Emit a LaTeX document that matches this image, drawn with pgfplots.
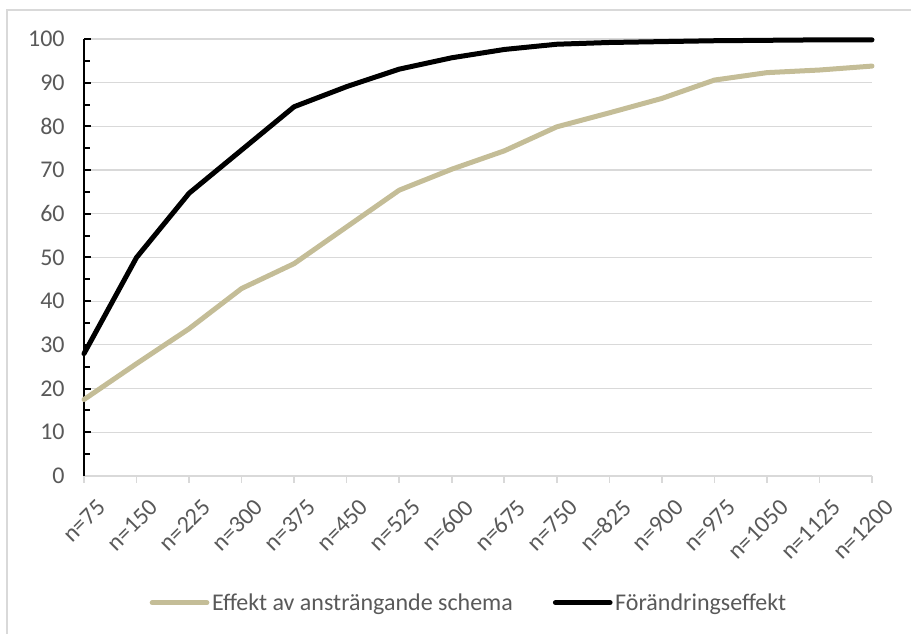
\documentclass[border=0pt]{standalone}
\usepackage{pgfplots}
\pgfplotsset{compat=1.18}
\usepackage{fontspec}
\setmainfont{Carlito}
\definecolor{tanline}{HTML}{C4BD97}
\definecolor{txt}{HTML}{595959}
\definecolor{gridgray}{HTML}{D9D9D9}

\begin{document}
\begin{tikzpicture}
\useasboundingbox (0pt,0pt) rectangle (683.25pt,475.5pt);
% chart frame (top and left edges)
\draw[gridgray, line width=1pt] (5.25pt,0pt) -- (5.25pt,468pt) -- (683.25pt,468pt);
\begin{axis}[
  at={(63pt,118.5pt)}, anchor=south west,
  scale only axis, width=591pt, height=327.75pt,
  xmin=0, xmax=15, ymin=0, ymax=100,
  clip=false,
  axis x line=bottom, axis y line=left,
  axis line style={-},
  x axis line style={gridgray, line width=1.2pt},
  y axis line style={black, line width=1.5pt},
  xtick={0,...,15},
  xticklabels={{n=75},{n=150},{n=225},{n=300},{n=375},{n=450},{n=525},{n=600},{n=675},{n=750},{n=825},{n=900},{n=975},{n=1050},{n=1125},{n=1200}},
  ytick={0,10,...,100}, minor y tick num=1,
  xtick align=outside, ytick align=inside,
  xtick style={gridgray, line width=1.2pt},
  ytick style={black, line width=1.5pt},
  major tick length=5pt, minor tick length=4.5pt,
  ymajorgrids, grid style={gridgray, line width=0.9pt},
  /pgf/number format/assume math mode=true,
  tick label style={font=\fontsize{18}{20}\selectfont, text=txt},
  xticklabel style={xshift=8.8pt, yshift=-6.6pt, rotate=45, anchor=north east},
  yticklabel style={xshift=-11pt},
  legend style={at={(0.489,-0.29)}, anchor=center, draw=none,
    font=\fontsize{18}{20}\selectfont, text=txt,
    /tikz/every even column/.append style={column sep=28pt}},
  legend columns=2,
  legend image code/.code={\draw[#1, line cap=round] (0pt,0pt) -- (41pt,0pt);},
]
\addplot[tanline, line width=3.75pt, line join=round, line cap=round] coordinates {
  (0,17.5) (1,25.7) (2,33.7) (3,42.9) (4,48.6) (5,57.0) (6,65.4) (7,70.2)
  (8,74.4) (9,79.9) (10,83.1) (11,86.4) (12,90.6) (13,92.3) (14,92.9) (15,93.8)
};
\addlegendentry{Effekt av ansträngande schema}
\addplot[black, line width=3.75pt, line join=round, line cap=round] coordinates {
  (0,28.0) (1,50.0) (2,64.7) (3,74.6) (4,84.5) (5,89.1) (6,93.1) (7,95.7)
  (8,97.6) (9,98.8) (10,99.2) (11,99.4) (12,99.6) (13,99.7) (14,99.8) (15,99.8)
};
\addlegendentry{Förändringseffekt}
\end{axis}
\end{tikzpicture}
\end{document}
